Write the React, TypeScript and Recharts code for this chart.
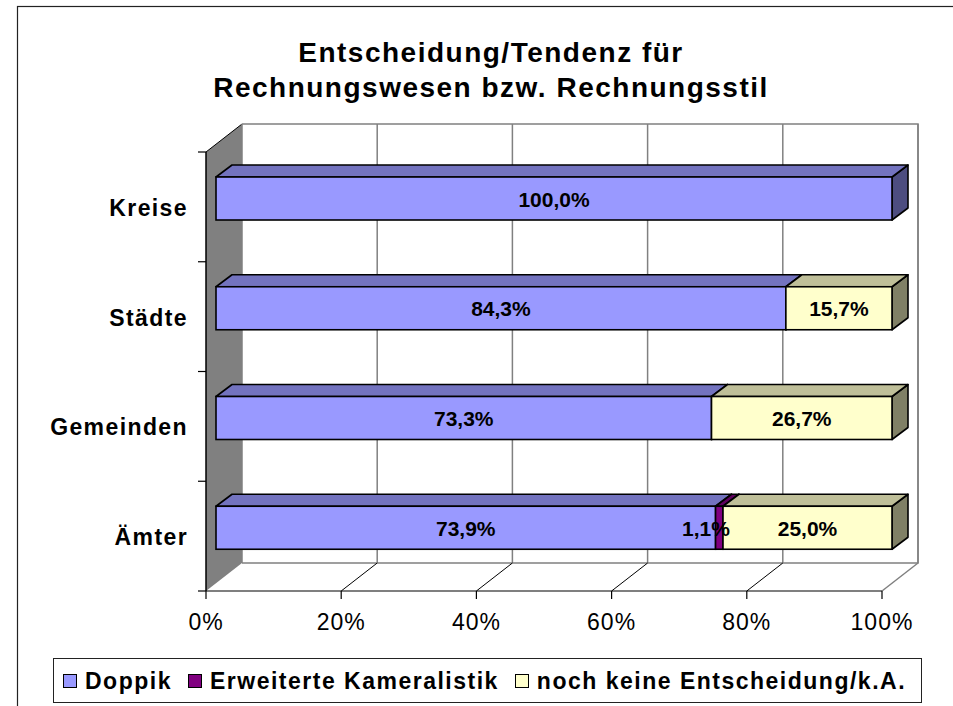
import React from 'react';
import { BarChart, Bar, XAxis, YAxis, CartesianGrid, Legend, LabelList } from 'recharts';

// ---------- data ----------
const categories = ['Kreise', 'Städte', 'Gemeinden', 'Ämter'];
const doppik = [100.0, 84.3, 73.3, 73.9];
const kameralistik = [0, 0, 0, 1.1];
const keineEntscheidung = [0, 15.7, 26.7, 25.0];
const xTicks = [0, 20, 40, 60, 80, 100];
const seriesNames = ['Doppik', 'Erweiterte Kameralistik', 'noch keine Entscheidung/k.A.'];
const titleLines = ['Entscheidung/Tendenz für', 'Rechnungswesen bzw. Rechnungsstil'];

const data = categories.map((name, i) => ({
  name,
  doppik: doppik[i],
  kam: kameralistik[i],
  keine: keineEntscheidung[i],
}));

// ---------- layout ----------
const W = 953;
const H = 706;
const PLOT_L = 206;
const PLOT_R = 882;
const PLOT_T = 152;
const PLOT_B = 591;
const DX = 36; // wall depth
const DY = 28;
const FX = 10; // bar front offset into depth
const FY = 8;
const BX = 16; // bar depth
const BY = 12;
const Y_AXIS_W = 100;
const X_AXIS_H = 40;

const FONT = '"Liberation Sans", Arial, Helvetica, sans-serif';

const COLORS = {
  doppik: { front: '#9999FF', top: '#7373BF', side: '#4D4D80' },
  kam: { front: '#800080', top: '#600060', side: '#400040' },
  keine: { front: '#FFFFCC', top: '#BFBF99', side: '#808066' },
};

const fmt = (v: number) => v.toFixed(1).replace('.', ',') + '%';

const make3D = (c: { front: string; top: string; side: string }) => (props: any) => {
  const { x, y, width, height } = props;
  if (!width || width <= 0.05 || !height) return <g />;
  const fx = x + FX;
  const fy = y - FY;
  const sw = 1.6;
  return (
    <g>
      <polygon
        points={`${fx + width},${fy} ${fx + width + BX},${fy - BY} ${fx + width + BX},${fy + height - BY} ${fx + width},${fy + height}`}
        fill={c.side}
        stroke="#000"
        strokeWidth={sw}
        strokeLinejoin="round"
      />
      <polygon
        points={`${fx},${fy} ${fx + BX},${fy - BY} ${fx + width + BX},${fy - BY} ${fx + width},${fy}`}
        fill={c.top}
        stroke="#000"
        strokeWidth={sw}
        strokeLinejoin="round"
      />
      <rect x={fx} y={fy} width={width} height={height} fill={c.front} stroke="#000" strokeWidth={sw} />
    </g>
  );
};

const labelContent = (props: any) => {
  const { x, y, width, height, value } = props;
  const v = Number(value);
  if (!v) return <g />;
  let cx = Number(x) + FX + Number(width) / 2;
  if (Number(width) < 30) cx = Number(x) + FX + Number(width) - 17;
  return (
    <text
      x={cx}
      y={Number(y) - FY + Number(height) / 2 + 8}
      textAnchor="middle"
      fontFamily={FONT}
      fontWeight="bold"
      fontSize={21}
      fill="#000"
    >
      {fmt(v)}
    </text>
  );
};

const YTick = (props: any) => {
  const { x, y, payload, index } = props;
  const half = payload && payload.offset ? payload.offset : (PLOT_B - PLOT_T) / categories.length / 2;
  return (
    <g>
      <text
        x={x - 18}
        y={y + 9}
        textAnchor="end"
        fontFamily={FONT}
        fontWeight="bold"
        fontSize={23}
        letterSpacing={1.4}
        fill="#000"
      >
        {payload.value}
      </text>
      <line x1={x - 8} y1={y - half} x2={x} y2={y - half} stroke="#000" strokeWidth={1.2} />
      {index === categories.length - 1 ? (
        <line x1={x - 8} y1={y + half} x2={x} y2={y + half} stroke="#000" strokeWidth={1.2} />
      ) : null}
    </g>
  );
};

const XTick = (props: any) => {
  const { x, y, payload } = props;
  return (
    <text x={x} y={y + 29} textAnchor="middle" fontFamily={FONT} fontSize={23} letterSpacing={1} fill="#000">
      {payload.value}%
    </text>
  );
};

const backGridLine = (props: any) => {
  const { x1, y1, x2, y2 } = props;
  return <line x1={x1 + DX} y1={y1 - DY} x2={x2 + DX} y2={y2 - DY} stroke="#808080" strokeWidth={1.5} />;
};

const floorGridLine = (props: any) => {
  const { x1, y2 } = props;
  if (x1 <= PLOT_L + 1) return <g />;
  const last = x1 >= PLOT_R - 1;
  return (
    <line
      x1={x1}
      y1={y2}
      x2={x1 + DX}
      y2={y2 - DY}
      stroke={last ? '#808080' : '#000'}
      strokeWidth={last ? 1.5 : 1}
    />
  );
};

const LegendContent = (props: any) => {
  const payload = props.payload || [];
  return (
    <div
      style={{
        boxSizing: 'border-box',
        width: 869,
        height: 45,
        border: '1px solid #222',
        background: '#fff',
        display: 'flex',
        alignItems: 'center',
        paddingLeft: 9,
        fontFamily: FONT,
        fontWeight: 'bold',
        fontSize: 23,
        letterSpacing: '1.5px',
        whiteSpace: 'nowrap',
        color: '#000',
      }}
    >
      {payload.map((p: any, i: number) => (
        <div key={i} style={{ display: 'flex', alignItems: 'center', marginRight: 16 }}>
          <span
            style={{
              display: 'inline-block',
              boxSizing: 'border-box',
              width: 14,
              height: 14,
              background: p.color,
              border: '1px solid #000',
              marginRight: 8,
            }}
          />
          <span style={{ lineHeight: '26px' }}>{p.value}</span>
        </div>
      ))}
    </div>
  );
};

export default function App() {
  return (
    <div style={{ position: 'absolute', left: 0, top: 0, width: W, height: H, overflow: 'hidden', background: '#fff' }}>
      <svg width={W} height={H} style={{ position: 'absolute', left: 0, top: 0 }}>
        <rect x={17.5} y={6.5} width={W + 50} height={H + 50} fill="#fff" stroke="#222" strokeWidth={1.2} />
        {titleLines.map((t, i) => (
          <text
            key={i}
            x={491}
            y={62 + i * 35}
            textAnchor="middle"
            fontFamily={FONT}
            fontWeight="bold"
            fontSize={28}
            letterSpacing={1.5}
            fill="#000"
          >
            {t}
          </text>
        ))}
        {/* back wall border */}
        <polyline
          points={`${PLOT_L + DX},${PLOT_T - DY} ${PLOT_R + DX},${PLOT_T - DY} ${PLOT_R + DX},${PLOT_B - DY} ${PLOT_L + DX},${PLOT_B - DY}`}
          fill="none"
          stroke="#808080"
          strokeWidth={1.5}
        />
        {/* left wall */}
        <polygon
          points={`${PLOT_L},${PLOT_T} ${PLOT_L + DX},${PLOT_T - DY} ${PLOT_L + DX},${PLOT_B - DY} ${PLOT_L},${PLOT_B}`}
          fill="#808080"
        />
        <line x1={PLOT_L} y1={PLOT_T} x2={PLOT_L + DX} y2={PLOT_T - DY} stroke="#000" strokeWidth={1} />
      </svg>
      <div style={{ position: 'absolute', left: 0, top: 0 }}>
        <BarChart
          width={W}
          height={H}
          data={data}
          layout="vertical"
          barSize={43}
          margin={{
            top: PLOT_T,
            bottom: H - PLOT_B - X_AXIS_H,
            left: PLOT_L - Y_AXIS_W,
            right: W - PLOT_R,
          }}
        >
          <CartesianGrid horizontal={false} vertical={backGridLine} />
          <CartesianGrid horizontal={false} vertical={floorGridLine} />
          <XAxis
            type="number"
            domain={[0, 100]}
            ticks={xTicks}
            height={X_AXIS_H}
            axisLine={{ stroke: '#000', strokeWidth: 1.2 }}
            tickLine={{ stroke: '#000', strokeWidth: 1.2 }}
            tickSize={8}
            tickMargin={2}
            tick={XTick}
            interval={0}
          />
          <YAxis
            type="category"
            dataKey="name"
            width={Y_AXIS_W}
            axisLine={{ stroke: '#000', strokeWidth: 1.5 }}
            tickLine={false}
            tickSize={0}
            tickMargin={0}
            tick={YTick}
            interval={0}
          />
          <Legend
            layout="horizontal"
            verticalAlign="middle"
            align="center"
            content={LegendContent}
            wrapperStyle={{ position: 'absolute', left: 53, top: 658, width: 869, height: 45 }}
          />
          <Bar
            dataKey="doppik"
            name={seriesNames[0]}
            stackId="s"
            fill={COLORS.doppik.front}
            shape={make3D(COLORS.doppik)}
            isAnimationActive={false}
          >
            <LabelList dataKey="doppik" content={labelContent} />
          </Bar>
          <Bar
            dataKey="kam"
            name={seriesNames[1]}
            stackId="s"
            fill={COLORS.kam.front}
            shape={make3D(COLORS.kam)}
            isAnimationActive={false}
          >
            <LabelList dataKey="kam" content={labelContent} />
          </Bar>
          <Bar
            dataKey="keine"
            name={seriesNames[2]}
            stackId="s"
            fill={COLORS.keine.front}
            shape={make3D(COLORS.keine)}
            isAnimationActive={false}
          >
            <LabelList dataKey="keine" content={labelContent} />
          </Bar>
        </BarChart>
      </div>
    </div>
  );
}
